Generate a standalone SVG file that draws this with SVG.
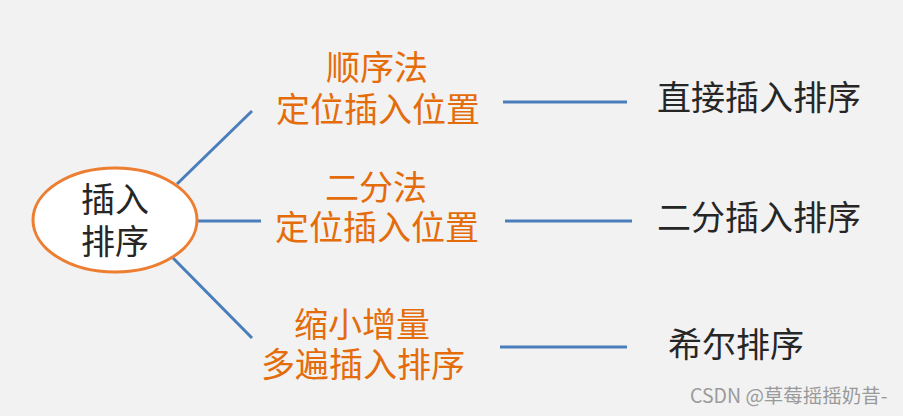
<svg xmlns="http://www.w3.org/2000/svg" width="903" height="416" viewBox="0 0 903 416">
<style>
.o{font-family:"Noto Sans CJK SC","Noto Sans",sans-serif;font-size:34px;fill:#e46c0a;text-anchor:middle}
.d{font-family:"Noto Sans CJK SC","Noto Sans",sans-serif;font-size:34px;fill:#262626;text-anchor:middle}
.l{stroke:#4a7ebb;stroke-width:3;fill:none}
</style>
<rect width="903" height="416" fill="#f2f2f2"/>
<g id="connectors">
<line class="l" x1="177" y1="184" x2="252" y2="111"/>
<line class="l" x1="197" y1="221" x2="261" y2="221"/>
<line class="l" x1="173" y1="258" x2="252" y2="338"/>
<line class="l" x1="503" y1="102" x2="627" y2="102"/>
<line class="l" x1="505" y1="221" x2="632" y2="221"/>
<line class="l" x1="500" y1="347" x2="627" y2="347"/>
</g>
<g id="root">
<ellipse cx="115" cy="220" rx="82" ry="52" fill="#ffffff" stroke="#ed7d31" stroke-width="3"/>
<text class="d"><tspan x="115" y="212">插入</tspan><tspan x="115" y="254">排序</tspan></text>
</g>
<g id="m1">
<text class="o"><tspan x="377" y="80">顺序法</tspan><tspan x="378" y="122">定位插入位置</tspan></text>
</g>
<g id="m2">
<text class="o"><tspan x="376" y="200">二分法</tspan><tspan x="377" y="240">定位插入位置</tspan></text>
</g>
<g id="m3">
<text class="o"><tspan x="362" y="337">缩小增量</tspan><tspan x="363" y="377">多遍插入排序</tspan></text>
</g>
<g id="r1"><text class="d" x="759" y="110">直接插入排序</text></g>
<g id="r2"><text class="d" x="759" y="230">二分插入排序</text></g>
<g id="r3"><text class="d" x="736" y="357">希尔排序</text></g>
<text x="690" y="403" font-family="'Noto Sans CJK SC','Noto Sans',sans-serif" font-size="19.5" fill="#9a9a9a">CSDN @草莓摇摇奶昔-</text>
</svg>
